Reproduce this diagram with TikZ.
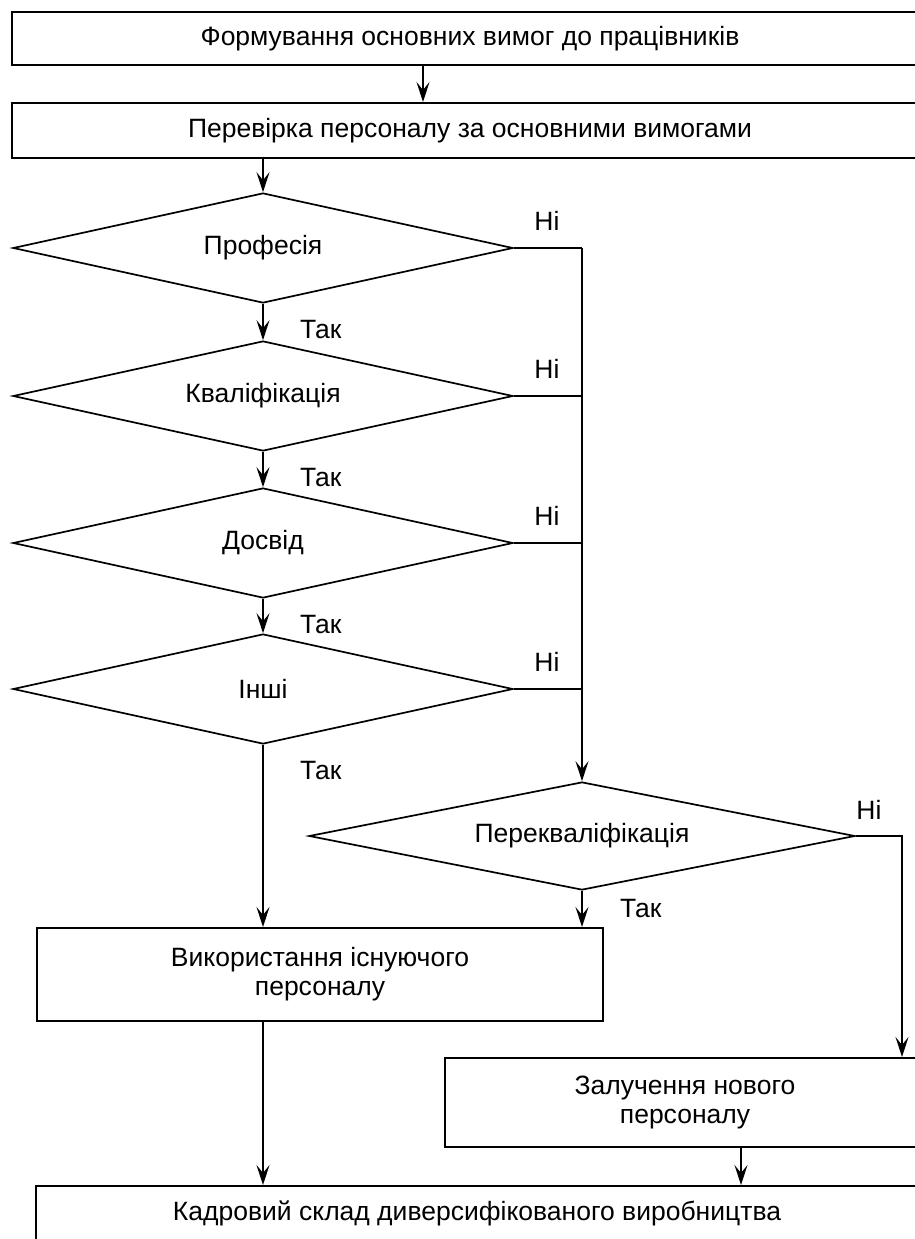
\documentclass[tikz,border=0pt]{standalone}
\usepackage{fontspec}
\setmainfont{Liberation Sans}
\usetikzlibrary{shapes.geometric,arrows.meta}
\begin{document}
\begin{tikzpicture}[x=1pt,y=-1pt,
  font=\fontsize{26.5}{29}\selectfont,
  box/.style={draw, line width=2pt, rectangle, inner sep=0pt, align=center},
  cond/.style={draw, line width=1.7pt, diamond, aspect=4.5, inner sep=0pt},
  arr/.style={draw, line width=1.4pt, -{Stealth[length=20pt,width=13pt,inset=8pt]}},
  ln/.style={draw, line width=1.4pt}]
\useasboundingbox (0,0) rectangle (915,1239);
\clip (0,0) rectangle (915,1239);

\node[box, minimum width=916pt, minimum height=53pt] (b1) at (470,38.5) {Формування основних вимог до працівників};
\node[box, minimum width=916pt, minimum height=55pt] (b2) at (470,130.5) {Перевірка персоналу за основними вимогами};

\node[cond, minimum width=500pt, minimum height=110pt] (d1) at (263,248) {Професія};
\node[cond, minimum width=500pt, minimum height=110pt] (d2) at (263,396) {Кваліфікація};
\node[cond, minimum width=500pt, minimum height=110pt] (d3) at (263,543) {Досвід};
\node[cond, minimum width=500pt, minimum height=110pt] (d4) at (263,689) {Інші};
\node[cond, aspect=5, minimum width=546pt, minimum height=108pt] (pk) at (582,836) {Перекваліфікація};

\node[box, minimum width=566pt, minimum height=93pt] (v) at (320,974.5) {Використання існуючого\\персоналу};
\node[box, minimum width=480pt, minimum height=89pt] (nb) at (685,1102.5) {Залучення нового\\персоналу};
\node[box, minimum width=882pt, minimum height=55pt] (k) at (477,1213.5) {Кадровий склад диверсифікованого виробництва};

\coordinate (c1) at (423,0);
\coordinate (rc) at (582,0);
\coordinate (rc2) at (902,0);
\coordinate (c3) at (741,0);

\path[arr] (b1.south -| c1) -- (b2.north -| c1);
\path[arr] (b2.south -| d1.north) -- (d1.north);
\path[arr] (d1.south) -- (d2.north);
\path[arr] (d2.south) -- (d3.north);
\path[arr] (d3.south) -- (d4.north);
\path[arr] (d4.south) -- (v.north -| d4.south);

\path[ln] (d1.east) -- (d1.east -| rc);
\path[ln] (d2.east) -- (d2.east -| rc);
\path[ln] (d3.east) -- (d3.east -| rc);
\path[ln] (d4.east) -- (d4.east -| rc);
\path[arr] (d1.east -| rc) -- (pk.north);

\path[arr] (pk.south) -- (v.north -| pk.south);
\path[arr] (pk.east) -| (nb.north -| rc2);
\path[arr] (v.south -| d4.south) -- (k.north -| d4.south);
\path[arr] (nb.south -| c3) -- (k.north -| c3);

\node (n1) at (547,221) {Ні};
\node (n2) at (547,369) {Ні};
\node (n3) at (547,516) {Ні};
\node (n4) at (547,662) {Ні};
\node (n5) at (869,810) {Ні};
\node[anchor=west, inner sep=0pt] (y1) at (300,330) {Так};
\node[anchor=west, inner sep=0pt] (y2) at (300,478) {Так};
\node[anchor=west, inner sep=0pt] (y3) at (300,625) {Так};
\node[anchor=west, inner sep=0pt] (y4) at (300,771) {Так};
\node[anchor=west, inner sep=0pt] (y5) at (620,909) {Так};
\end{tikzpicture}
\end{document}
